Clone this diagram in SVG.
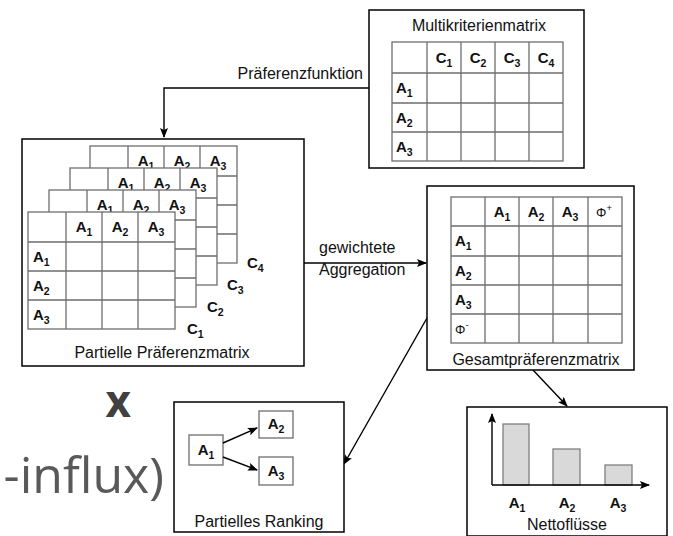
<svg xmlns="http://www.w3.org/2000/svg" xmlns:xlink="http://www.w3.org/1999/xlink" width="673" height="536" viewBox="0 0 673 536">
<style>
.box{fill:#fff;stroke:#000;stroke-width:1.5}
.grid{fill:none;stroke:#6e6e6e;stroke-width:1.3}
.gridbg{fill:#fff;stroke:#6e6e6e;stroke-width:1.3}
.lbl{font-family:"Liberation Sans",Arial,sans-serif;font-size:15px;font-weight:bold;fill:#111}
.sub{font-size:10.5px}
.phi{font-family:"Liberation Sans",Arial,sans-serif;font-size:13px;fill:#111}
.t{font-family:"Liberation Sans",Arial,sans-serif;font-size:16px;fill:#111}
.m{text-anchor:middle}
.conn{stroke:#000;stroke-width:1.4;fill:none;marker-end:url(#arr)}
.bar{fill:#d9d9d9;stroke:#7f7f7f;stroke-width:1.3}
.bg1{font-family:"Open Sans","Noto Sans",sans-serif;font-weight:bold;font-size:44px;fill:#404040}
.bg2{font-family:"Open Sans","Noto Sans",sans-serif;font-size:50px;fill:#595959}
</style>
<defs>
<marker id="arr" markerWidth="10" markerHeight="8" refX="9" refY="4" orient="auto" markerUnits="userSpaceOnUse">
<path d="M0,0 L10,4 L0,8 L2,4 Z" fill="#000"/>
</marker>
<g id="pm">
<rect class="gridbg" x="0" y="0" width="147" height="117"/>
<path class="grid" d="M38,0V117M74,0V117M110,0V117M0,30H147M0,59H147M0,88H147"/>
<text class="lbl m" x="56" y="20">A<tspan class="sub" dy="4">1</tspan></text>
<text class="lbl m" x="92" y="20">A<tspan class="sub" dy="4">2</tspan></text>
<text class="lbl m" x="128" y="20">A<tspan class="sub" dy="4">3</tspan></text>
<text class="lbl" x="5" y="50">A<tspan class="sub" dy="4">1</tspan></text>
<text class="lbl" x="5" y="79">A<tspan class="sub" dy="4">2</tspan></text>
<text class="lbl" x="5" y="108">A<tspan class="sub" dy="4">3</tspan></text>
</g>
</defs>

<g id="background-text">
<text class="bg1" x="131" y="417" text-anchor="end">x</text>
<text class="bg2" x="164" y="493" text-anchor="end">-influx)</text>
</g>

<g id="connectors">
<path class="conn" d="M369,88H164V137"/>
<text class="t" x="363" y="79" text-anchor="end">Präferenzfunktion</text>
<path class="conn" d="M304,263H426"/>
<text class="t" x="319" y="253">gewichtete</text>
<text class="t" x="319" y="275">Aggregation</text>
<path class="conn" d="M427,318L344,464"/>
<path class="conn" d="M533,370L567,406"/>
</g>

<g id="multikriterienmatrix">
<rect class="box" x="369" y="10" width="215" height="158"/>
<text class="t m" x="479" y="31" font-size="17">Multikriterienmatrix</text>
<rect class="gridbg" x="392" y="42" width="171" height="119"/>
<path class="grid" d="M427,42V161M461,42V161M495,42V161M529,42V161M392,73H563M392,103H563M392,132H563"/>
<text class="lbl m" x="444" y="63">C<tspan class="sub" dy="4">1</tspan></text>
<text class="lbl m" x="478" y="63">C<tspan class="sub" dy="4">2</tspan></text>
<text class="lbl m" x="512" y="63">C<tspan class="sub" dy="4">3</tspan></text>
<text class="lbl m" x="546" y="63">C<tspan class="sub" dy="4">4</tspan></text>
<text class="lbl" x="396" y="93">A<tspan class="sub" dy="4">1</tspan></text>
<text class="lbl" x="396" y="122.5">A<tspan class="sub" dy="4">2</tspan></text>
<text class="lbl" x="396" y="151.5">A<tspan class="sub" dy="4">3</tspan></text>
</g>

<g id="partielle-praeferenzmatrix">
<rect class="box" x="22" y="139" width="282" height="227"/>
<use xlink:href="#pm" x="90" y="146"/>
<use xlink:href="#pm" x="70" y="168"/>
<use xlink:href="#pm" x="49" y="190"/>
<use xlink:href="#pm" x="28" y="212"/>
<text class="lbl" x="247" y="268">C<tspan class="sub" dy="4">4</tspan></text>
<text class="lbl" x="227" y="290">C<tspan class="sub" dy="4">3</tspan></text>
<text class="lbl" x="207" y="312">C<tspan class="sub" dy="4">2</tspan></text>
<text class="lbl" x="187" y="334">C<tspan class="sub" dy="4">1</tspan></text>
<text class="t m" x="162" y="358">Partielle Präferenzmatrix</text>
</g>

<g id="gesamtpraeferenzmatrix">
<rect class="box" x="427" y="186" width="207" height="184"/>
<rect class="gridbg" x="451" y="197" width="171" height="146"/>
<path class="grid" d="M485,197V343M519,197V343M553,197V343M588,197V343M451,226H622M451,256H622M451,285H622M451,314H622"/>
<text class="lbl m" x="502" y="217">A<tspan class="sub" dy="4">1</tspan></text>
<text class="lbl m" x="536" y="217">A<tspan class="sub" dy="4">2</tspan></text>
<text class="lbl m" x="570" y="217">A<tspan class="sub" dy="4">3</tspan></text>
<text class="phi m" x="604" y="217">Φ<tspan dy="-6" font-size="9.5">+</tspan></text>
<text class="lbl" x="455" y="246">A<tspan class="sub" dy="4">1</tspan></text>
<text class="lbl" x="455" y="276">A<tspan class="sub" dy="4">2</tspan></text>
<text class="lbl" x="455" y="305">A<tspan class="sub" dy="4">3</tspan></text>
<text class="phi" x="455" y="334">Φ<tspan dy="-6" font-size="9.5">-</tspan></text>
<text class="t m" x="536" y="365">Gesamtpräferenzmatrix</text>
</g>

<g id="partielles-ranking">
<rect class="box" x="174" y="402" width="170" height="130"/>
<rect class="gridbg" x="189" y="435" width="34" height="30"/>
<rect class="gridbg" x="259" y="411" width="34" height="27"/>
<rect class="gridbg" x="259" y="457" width="34" height="28"/>
<text class="lbl m" x="206" y="455">A<tspan class="sub" dy="4">1</tspan></text>
<text class="lbl m" x="276" y="429">A<tspan class="sub" dy="4">2</tspan></text>
<text class="lbl m" x="276" y="476">A<tspan class="sub" dy="4">3</tspan></text>
<path class="conn" d="M223,443L257,428"/>
<path class="conn" d="M223,457L257,470"/>
<text class="t m" x="259" y="527">Partielles Ranking</text>
</g>

<g id="nettofluesse">
<rect class="box" x="467" y="407" width="200" height="129"/>
<rect class="bar" x="503" y="424" width="26" height="61"/>
<rect class="bar" x="553" y="449" width="27" height="36"/>
<rect class="bar" x="605" y="465" width="27" height="20"/>
<path class="conn" d="M492,485V414"/>
<path class="conn" d="M492,485H649"/>
<text class="lbl m" x="517" y="508">A<tspan class="sub" dy="4">1</tspan></text>
<text class="lbl m" x="567" y="508">A<tspan class="sub" dy="4">2</tspan></text>
<text class="lbl m" x="618" y="508">A<tspan class="sub" dy="4">3</tspan></text>
<text class="t m" x="567" y="530">Nettoflüsse</text>
</g>
</svg>
